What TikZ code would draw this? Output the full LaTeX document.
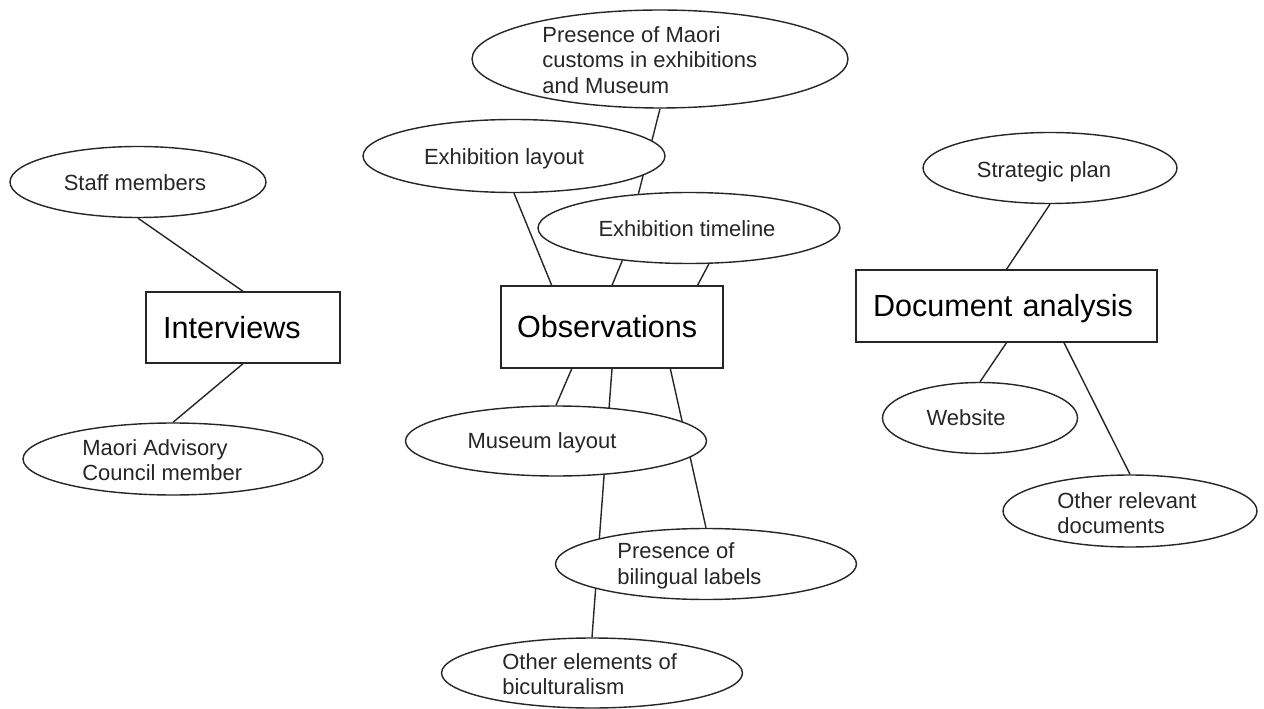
\documentclass[tikz,border=0pt]{standalone}
\usepackage{fontspec}
\setmainfont{Liberation Sans}
\usetikzlibrary{shapes.geometric,calc}
\pgfdeclarelayer{bg}
\pgfsetlayers{bg,main}
\tikzset{
  ink/.style={draw=black!85, line width=0.8pt},
  oval/.style={ellipse, ink, fill=white, inner sep=0pt},
  boxnode/.style={rectangle, ink, fill=white, inner ysep=0pt, align=left,
    text height=12.5pt, text depth=0pt,
    font=\fontsize{17.4}{20}\selectfont},
  txt/.style={inner sep=0pt, align=left, text=black!85,
    font=\fontsize{12.5}{14.6}\selectfont},
  oneline/.style={text height=9pt, text depth=0pt},
  conn/.style={ink}
}
\begin{document}
\begin{tikzpicture}[x=0.02cm, y=-0.02cm]
\useasboundingbox (0,0) rectangle (1264,709);
% boxes
\node[boxnode, minimum width=3.88cm, minimum height=1.42cm, text width=3.2cm, inner xsep=0.34cm] (intv) at (243,327.5) {Interviews};
\node[boxnode, minimum width=4.44cm, minimum height=1.64cm, text width=3.8cm, inner xsep=0.32cm] (obs) at (612,327) {Observations};
\node[boxnode, minimum width=6.02cm, minimum height=1.44cm, text width=5.34cm, inner xsep=0.34cm] (dana) at (1006.5,306) {Document analysis};
% ellipses
\node[oval, minimum width=5.12cm, minimum height=1.42cm] (staff) at (138,182) {};
\node[oval, minimum width=6.00cm, minimum height=1.44cm] (maoriadv) at (173,459) {};
\node[oval, minimum width=7.52cm, minimum height=1.96cm] (presence) at (660,59) {};
\node[oval, minimum width=6.04cm, minimum height=1.46cm] (exlayout) at (514,156) {};
\node[oval, minimum width=6.04cm, minimum height=1.42cm] (extime) at (689,228) {};
\node[oval, minimum width=6.02cm, minimum height=1.40cm] (museum) at (556,441) {};
\node[oval, minimum width=6.02cm, minimum height=1.42cm] (bilingual) at (706,564) {};
\node[oval, minimum width=6.02cm, minimum height=1.40cm] (otherel) at (592,673) {};
\node[oval, minimum width=5.08cm, minimum height=1.42cm] (strategic) at (1050,168) {};
\node[oval, minimum width=3.90cm, minimum height=1.42cm] (website) at (980,418) {};
\node[oval, minimum width=5.08cm, minimum height=1.44cm] (otherdoc) at (1130,511) {};
% texts
\node[txt, oneline] (staff-t) at (135,183) {Staff members};
\node[txt, anchor=west] (maoriadv-t) at (82,460) {Maori Advisory\\Council member};
\node[txt, anchor=west] (presence-t) at (542,60) {Presence of Maori\\customs in exhibitions\\and Museum};
\node[txt, oneline] (exlayout-t) at (504,157) {Exhibition layout};
\node[txt, oneline] (extime-t) at (687,229) {Exhibition timeline};
\node[txt, oneline] (museum-t) at (542,441) {Museum layout};
\node[txt, anchor=west] (bilingual-t) at (617,566) {Presence of\\bilingual labels};
\node[txt, anchor=west] (otherel-t) at (502,674) {Other elements of\\biculturalism};
\node[txt, oneline] (strategic-t) at (1044,170) {Strategic plan};
\node[txt, oneline] (website-t) at (966,418) {Website};
\node[txt, anchor=west] (otherdoc-t) at (1057,513) {Other relevant\\documents};
% connectors
\begin{pgfonlayer}{bg}
\draw[conn] (staff.south) -- (intv.north);
\draw[conn] (intv.south) -- (maoriadv.north);
\draw[conn] (presence.south) -- (extime.146);
\draw[conn] (exlayout.south) -- ($(obs.north west)!0.23!(obs.north east)$);
\draw[conn] (extime.-154) -- (obs.north);
\draw[conn] (extime.-61.5) -- ($(obs.north west)!0.883!(obs.north east)$);
\draw[conn] ($(obs.south west)!0.32!(obs.south east)$) -- (museum.north);
\draw[conn] (obs.south) -- (otherel.north);
\draw[conn] ($(obs.south west)!0.761!(obs.south east)$) -- (bilingual.north);
\draw[conn] (strategic.south) -- (dana.north);
\draw[conn] (dana.south) -- (website.north);
\draw[conn] ($(dana.south west)!0.69!(dana.south east)$) -- (otherdoc.north);
\end{pgfonlayer}
\end{tikzpicture}
\end{document}
